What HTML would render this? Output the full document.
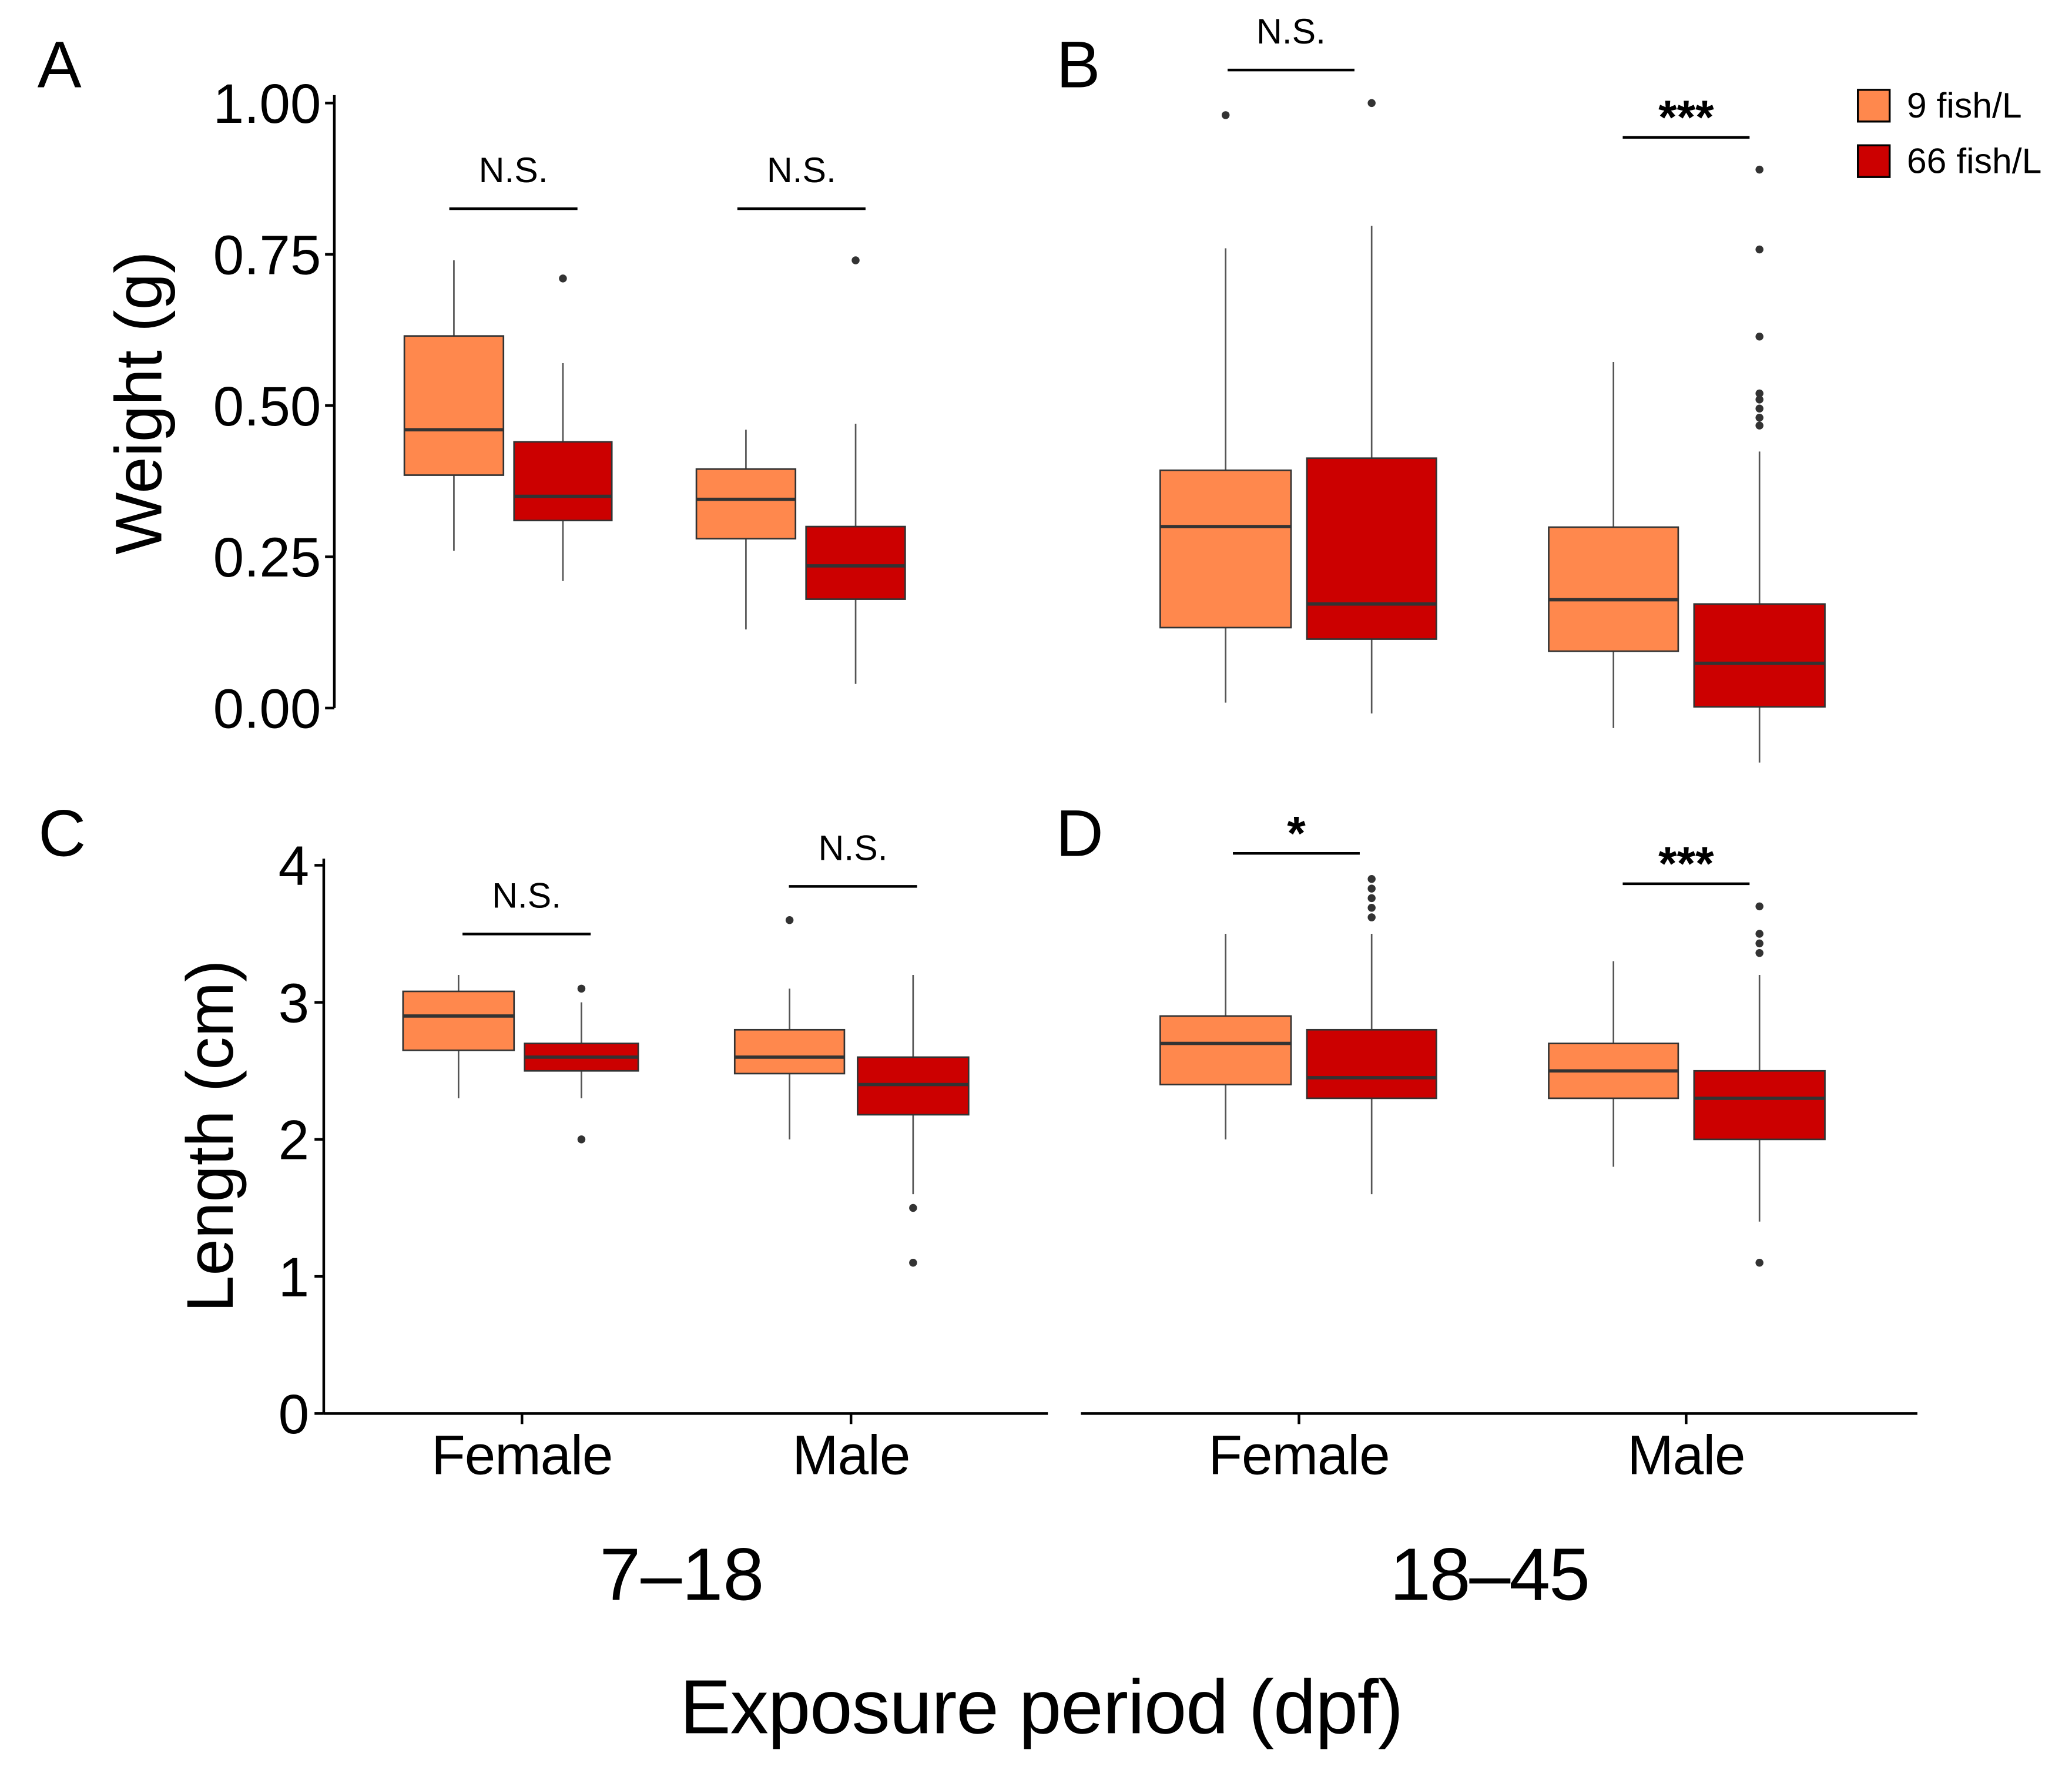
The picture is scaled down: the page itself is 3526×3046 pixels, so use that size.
<!DOCTYPE html>
<html><head><meta charset="utf-8"><style>
html,body{margin:0;padding:0;background:#fff;}
svg{display:block;}
text{font-family:"Liberation Sans",Arial,sans-serif;fill:#000;}
</style></head><body>
<svg id="fig" width="3526" height="3046" viewBox="0 0 1568 1355" preserveAspectRatio="none" xmlns="http://www.w3.org/2000/svg">
<rect width="1568" height="1355" fill="#fff"/>
<g id="g"></g>
</svg>
<script>
// Data: [lowWhisker, q1, median, q3, highWhisker]
const groups = ["Female-9", "Female-66", "Male-9", "Male-66"];
const weightA = [[0.26,0.385,0.46,0.615,0.74],[0.21,0.31,0.35,0.44,0.57],[0.13,0.28,0.345,0.395,0.46],[0.04,0.18,0.235,0.30,0.47]];
const weightAOut = [[],[0.71],[],[0.74]];
const weightB = [[0.009,0.133,0.30,0.393,0.76],[-0.009,0.114,0.172,0.413,0.797],[-0.033,0.094,0.179,0.299,0.572],[-0.09,0.002,0.074,0.172,0.424]];
const weightBOut = [[0.98],[1.0],[],[0.89,0.758,0.614,0.52,0.51,0.495,0.48,0.467]];
const lengthC = [[2.3,2.65,2.9,3.08,3.2],[2.3,2.5,2.6,2.7,3.0],[2.0,2.48,2.6,2.8,3.1],[1.6,2.18,2.4,2.6,3.2]];
const lengthCOut = [[],[3.1,2.0],[3.6],[1.5,1.1]];
const lengthD = [[2.0,2.4,2.7,2.9,3.5],[1.6,2.3,2.45,2.8,3.5],[1.8,2.3,2.5,2.7,3.3],[1.4,2.0,2.3,2.5,3.2]];
const lengthDOut = [[],[3.9,3.83,3.76,3.69,3.62],[],[3.7,3.5,3.43,3.36,1.1]];
const weightTicks = ["0.00","0.25","0.50","0.75","1.00"];
const lengthTicks = ["0","1","2","3","4"];
const sigLabels = ["N.S.","N.S.","N.S.","***","N.S.","N.S.","*","***"];

const NS="http://www.w3.org/2000/svg";
const G=document.getElementById('g');
function el(tag,attrs,parent){const e=document.createElementNS(NS,tag);for(const k in attrs)e.setAttribute(k,attrs[k]);(parent||G).appendChild(e);return e;}
function txt(s,x,y,size,anchor,name,extra){const t=el('text',Object.assign({x:x,y:y,'font-size':size,'text-anchor':anchor||'middle'},extra||{}));t.textContent=s;


return t;}
const yW=v=>536-v*458;
const yL=v=>1070-v*103.75;
const fills=["#FF884D","#CC0000","#FF884D","#CC0000"];
const xsLeft=[[306,381],[389,463],[527,602],[610,685]];
const xsLeftC=[[305,389],[397,483],[556,639],[649,733]];
const xsRight=[[878,977],[989,1087],[1172,1270],[1282,1381]];

function drawBoxes(data,outs,xs,ys,panel){
  data.forEach((d,i)=>{
    const gg=el('g',{});
    
    
    const cx=(xs[i][0]+xs[i][1])/2;
    el('line',{x1:cx,x2:cx,y1:ys(d[0]),y2:ys(d[4]),stroke:'#555','stroke-width':1.2},gg);
    el('rect',{x:xs[i][0],y:ys(d[3]),width:xs[i][1]-xs[i][0],height:ys(d[1])-ys(d[3]),fill:fills[i],stroke:'#333','stroke-width':1.2},gg);
    el('line',{x1:xs[i][0],x2:xs[i][1],y1:ys(d[2]),y2:ys(d[2]),stroke:'#333','stroke-width':2.5},gg);
    outs[i].forEach(o=>{el('circle',{cx:cx,cy:ys(o),r:3,fill:'#333'},gg);});
  });
}
function sig(x1,x2,y,label,name){
  const l=el('line',{x1:x1,x2:x2,y1:y,y2:y,stroke:'#000','stroke-width':2});
  
  
  if(label==='N.S.') txt(label,(x1+x2)/2,y-20,27,'middle',name+'-label');
  else txt(label,(x1+x2)/2,y-3,36,'middle',name+'-label',{'font-weight':'bold'});
}
// Panel A axis
el('line',{x1:253,x2:253,y1:72,y2:536,stroke:'#000','stroke-width':2});
weightTicks.forEach((t,i)=>{const v=i*0.25;el('line',{x1:246,x2:253,y1:yW(v),y2:yW(v),stroke:'#000','stroke-width':2});txt(t,243,yW(v)+15,42,'end','weight-tick-'+t);});
drawBoxes(weightA,weightAOut,xsLeft,yW,'panel-a');
drawBoxes(weightB,weightBOut,xsRight,yW,'panel-b');
// Panel C axis
el('line',{x1:245,x2:245,y1:650,y2:1070,stroke:'#000','stroke-width':2});
el('line',{x1:245,x2:793,y1:1070,y2:1070,stroke:'#000','stroke-width':2});
el('line',{x1:818,x2:1451,y1:1070,y2:1070,stroke:'#000','stroke-width':2});
lengthTicks.forEach((t,i)=>{el('line',{x1:238,x2:245,y1:yL(i),y2:yL(i),stroke:'#000','stroke-width':2});txt(t,234,yL(i)+15,42,'end','length-tick-'+t);});
drawBoxes(lengthC,lengthCOut,xsLeftC,yL,'panel-c');
drawBoxes(lengthD,lengthDOut,xsRight,yL,'panel-d');
// x ticks
[[395,'Female'],[644,'Male'],[983,'Female'],[1276,'Male']].forEach((p,i)=>{el('line',{x1:p[0],x2:p[0],y1:1070,y2:1078,stroke:'#000','stroke-width':2});txt(p[1],p[0],1116,42,'middle','x-tick-'+p[1].toLowerCase()+'-'+i,{'letter-spacing':'-0.5'});});
txt('7–18',516,1211,56,'middle','period-7-18');
txt('18–45',1127,1211,56,'middle','period-18-45',{'letter-spacing':'-1'});
txt('Exposure period (dpf)',788,1312,58,'middle','x-axis-title',{'letter-spacing':'-0.5'});
txt('Weight (g)',122,305,50,'middle','y-axis-title-weight',{transform:'rotate(-90 122 305)'});
txt('Length (cm)',176,860,50,'middle','y-axis-title-length',{transform:'rotate(-90 176 860)'});
txt('A',45,66,50,'middle','panel-label-a');txt('B',816,66,50,'middle','panel-label-b');
txt('C',47,648,50,'middle','panel-label-c');txt('D',817,648,50,'middle','panel-label-d');
// significance
sig(340,437,158,sigLabels[0],'sig-a-female');sig(558,655,158,sigLabels[1],'sig-a-male');
sig(929,1025,53,sigLabels[2],'sig-b-female');sig(1228,1324,104,sigLabels[3],'sig-b-male');
sig(350,447,707,sigLabels[4],'sig-c-female');sig(597,694,671,sigLabels[5],'sig-c-male');
sig(933,1029,646,sigLabels[6],'sig-d-female');sig(1228,1324,669,sigLabels[7],'sig-d-male');
// legend
const lg=el('g',{});


el('rect',{x:1406,y:68,width:24,height:24,fill:'#FF884D',stroke:'#000','stroke-width':1.5},lg);
el('rect',{x:1406,y:110,width:24,height:24,fill:'#CC0000',stroke:'#000','stroke-width':1.5},lg);
txt('9 fish/L',1443,89,27,'start','legend-entry-9');
txt('66 fish/L',1443,131,27,'start','legend-entry-66');
</script>
</body></html>
